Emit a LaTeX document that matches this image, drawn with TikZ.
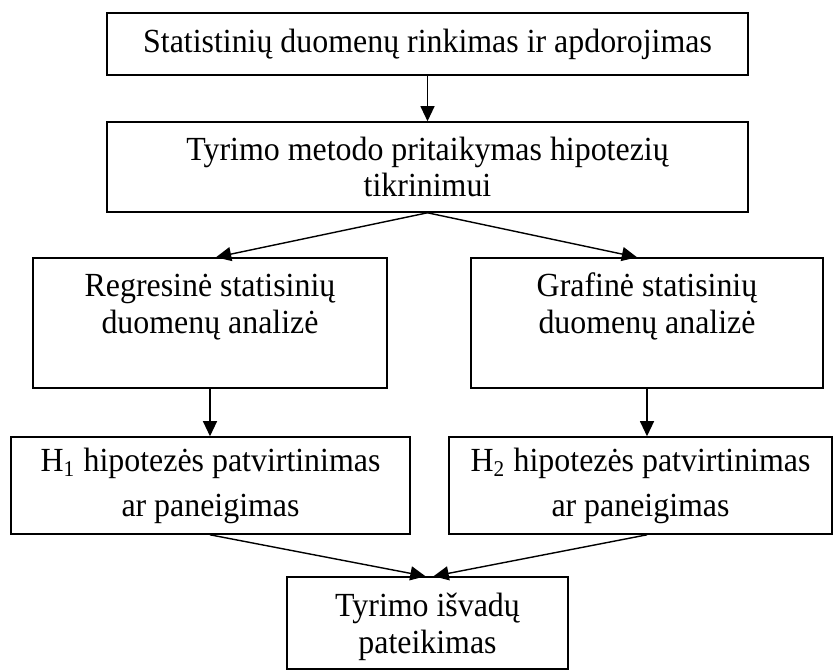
\documentclass[tikz,border=0pt]{standalone}
\usepackage{fontspec}
\setmainfont{Liberation Serif}[FakeStretch=0.945]
\usepackage{tikz}
\usetikzlibrary{arrows.meta,calc}
\newcommand\pxu{0.0125cm}
\tikzset{
  box/.style={draw,line width=0.55pt,align=center,inner sep=3pt,
              font=\fontsize{12}{13}\selectfont},
  topbox/.style={box,text height=21pt,text depth=13.8pt},
  arrow/.style={-{Triangle[length=5.4pt,width=5pt]},line width=0.5pt},
}

\begin{document}
\begin{tikzpicture}[x=\pxu,y=-\pxu]
\useasboundingbox (0,0) rectangle (835,670);
\node[box,minimum width=641*\pxu,minimum height=62*\pxu] (data) at (427.5,44)
  {Statistinių duomenų rinkimas ir apdorojimas};
\node[box,minimum width=641*\pxu,minimum height=90*\pxu] (method) at (427.5,167)
  {Tyrimo metodo pritaikymas hipotezių\\tikrinimui};
\node[topbox,minimum width=354*\pxu,minimum height=130*\pxu] (reg) at (210,323)
  {Regresinė statisinių\\duomenų analizė};
\node[topbox,minimum width=352*\pxu,minimum height=130*\pxu] (graf) at (647,323)
  {Grafinė statisinių\\duomenų analizė};
\node[box,minimum width=399*\pxu,minimum height=97*\pxu] (hone) at (210.5,485.5)
  {H\textsubscript{1} hipotezės patvirtinimas\\[3pt]ar paneigimas};
\node[box,minimum width=383*\pxu,minimum height=97*\pxu] (htwo) at (640.5,485.5)
  {H\textsubscript{2} hipotezės patvirtinimas\\[3pt]ar paneigimas};
\node[box,text depth=0pt,minimum width=281*\pxu,minimum height=92*\pxu] (result) at (427.5,623)
  {Tyrimo išvadų\\pateikimas};
\draw[arrow] (data) -- (method);
\draw[arrow] (method.south) -- ($(reg.north)+(6,0)$);
\draw[arrow] (method.south) -- ($(graf.north)+(-10,0)$);
\draw[arrow] (reg) -- (hone.north -| reg.south);
\draw[arrow] (graf) -- (htwo.north -| graf.south);
\draw[arrow] (hone.south -| reg.south) -- ($(result.north)+(-2,0)$);
\draw[arrow] (htwo.south -| graf.south) -- ($(result.north)+(6,0)$);
\end{tikzpicture}
\end{document}
